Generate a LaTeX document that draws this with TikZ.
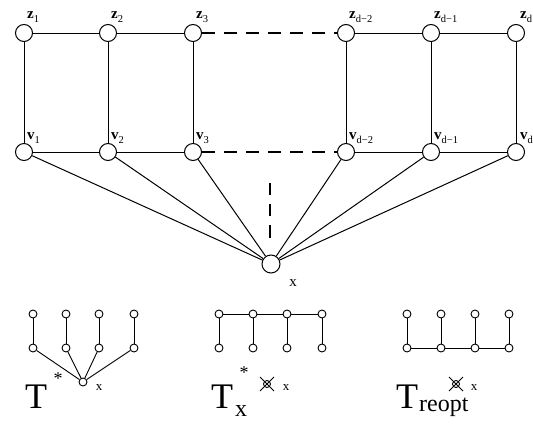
\documentclass[tikz,border=0pt]{standalone}
\usepackage{fontspec}
\setmainfont{Liberation Serif}
\usetikzlibrary{shapes.misc}
\newcommand\mylab[2]{#1\raisebox{-4.5pt}{\fontsize{10.5}{10.5}\selectfont\mdseries #2}}
\begin{document}
\begin{tikzpicture}[x=1pt,y=-1pt,
  big/.style={circle,draw,line width=1pt,minimum size=17pt,inner sep=0pt,fill=white},
  small/.style={circle,draw,line width=0.9pt,minimum size=8pt,inner sep=0pt,fill=white},
  edge/.style={line width=1pt},
  sedge/.style={line width=0.9pt},
  dashedge/.style={line width=1.1pt,dash pattern=on 13pt off 9pt},
  vdash/.style={line width=1.1pt},
  lbl/.style={anchor=base west,inner sep=0pt,font=\fontsize{15}{15}\selectfont\bfseries},
  bigT/.style={anchor=base west,inner sep=0pt,font=\fontsize{36}{36}\selectfont},
  sub/.style={anchor=base west,inner sep=0pt,font=\fontsize{24}{24}\selectfont},
  star/.style={anchor=north,inner sep=0pt,font=\fontsize{18}{18}\selectfont},
  xl/.style={anchor=center,inner sep=0pt,font=\fontsize{13}{13}\selectfont},
  crossed/.style={draw,cross out,line width=0.9pt,minimum size=13pt,inner sep=0pt}]
\useasboundingbox (0,0) rectangle (533,424);

% top ladder
\foreach \n/\xx in {1/24,2/108,3/193,a/346,b/431,c/516}{
  \node[big] (z\n) at (\xx,33) {};
  \node[big] (v\n) at (\xx,152) {};
}
\node[big,minimum size=18pt] (x) at (271,264) {};

\foreach \n in {1,2,3,a,b,c}{
  \draw[edge] (z\n) -- (v\n);
  \draw[edge] (v\n) -- (x);
}
\draw[edge] (z1) -- (z2) -- (z3);
\draw[edge] (za) -- (zb) -- (zc);
\draw[edge] (v1) -- (v2) -- (v3);
\draw[edge] (va) -- (vb) -- (vc);
\draw[dashedge] (z3) -- (za);
\draw[dashedge] (v3) -- (va);
\coordinate (d1) at (270,183);
\coordinate (d2) at (270,195);
\coordinate (d3) at (270,204);
\coordinate (d4) at (270,216);
\coordinate (d5) at (270,225);
\coordinate (d6) at (270,238);
\draw[vdash] (d1) -- (d2);
\draw[vdash] (d3) -- (d4);
\draw[vdash] (d5) -- (d6);

% labels
\node[lbl] (lz1) at (27,18) {\mylab{z}{1}};
\node[lbl] (lz2) at (111,18) {\mylab{z}{2}};
\node[lbl] (lz3) at (196,18) {\mylab{z}{3}};
\node[lbl] (lza) at (349,18) {\mylab{z}{d−2}};
\node[lbl] (lzb) at (434,18) {\mylab{z}{d−1}};
\node[lbl] (lzc) at (520,18) {\mylab{z}{d}};
\node[lbl] (lv1) at (27,139) {\mylab{v}{1}};
\node[lbl] (lv2) at (111,139) {\mylab{v}{2}};
\node[lbl] (lv3) at (196,139) {\mylab{v}{3}};
\node[lbl] (lva) at (349,139) {\mylab{v}{d−2}};
\node[lbl] (lvb) at (434,139) {\mylab{v}{d−1}};
\node[lbl] (lvc) at (520,139) {\mylab{v}{d}};
\node[xl,font=\fontsize{15}{15}\selectfont] (lx) at (293,283) {x};

% T*
\foreach \i/\xx in {1/33,2/66,3/99,4/134}{
  \node[small] (a\i) at (\xx,314) {};
  \node[small] (b\i) at (\xx,348) {};
}
\node[small] (r) at (83,382) {};
\foreach \i in {1,2,3,4}{
  \draw[sedge] (a\i) -- (b\i);
  \draw[sedge] (b\i) -- (r);
}
\node[bigT] (T1) at (25,408) {T};
\node[star] (s1) at (58,373) {*};
\node[xl] (x1) at (99,388) {x};

% T_x*
\foreach \i/\xx in {1/219,2/253,3/287,4/322}{
  \node[small] (c\i) at (\xx,314) {};
  \node[small] (d\i) at (\xx,348) {};
  \draw[sedge] (c\i) -- (d\i);
}
\draw[sedge] (c1) -- (c2) -- (c3) -- (c4);
\node[bigT] (T2) at (211,408) {T};
\node[xl,font=\fontsize{24}{24}\selectfont] (x2s) at (241,411) {x};
\node[star] (s2) at (244,367) {*};
\node[small,minimum size=7pt] (cx1) at (267,384) {};
\node[crossed] (cx1c) at (267,384) {};
\node[xl] (x2) at (286,388) {x};

% T_reopt
\foreach \i/\xx in {1/407,2/441,3/475,4/509}{
  \node[small] (e\i) at (\xx,314) {};
  \node[small] (f\i) at (\xx,348) {};
  \draw[sedge] (e\i) -- (f\i);
}
\draw[sedge] (f1) -- (f2) -- (f3) -- (f4);
\node[bigT] (T3) at (396,408) {T};
\node[sub] (sr) at (419,411) {reopt};
\node[small,minimum size=7pt] (cx2) at (456,384) {};
\node[crossed] (cx2c) at (456,384) {};
\node[xl] (x3) at (474,388) {x};
\end{tikzpicture}
\end{document}
